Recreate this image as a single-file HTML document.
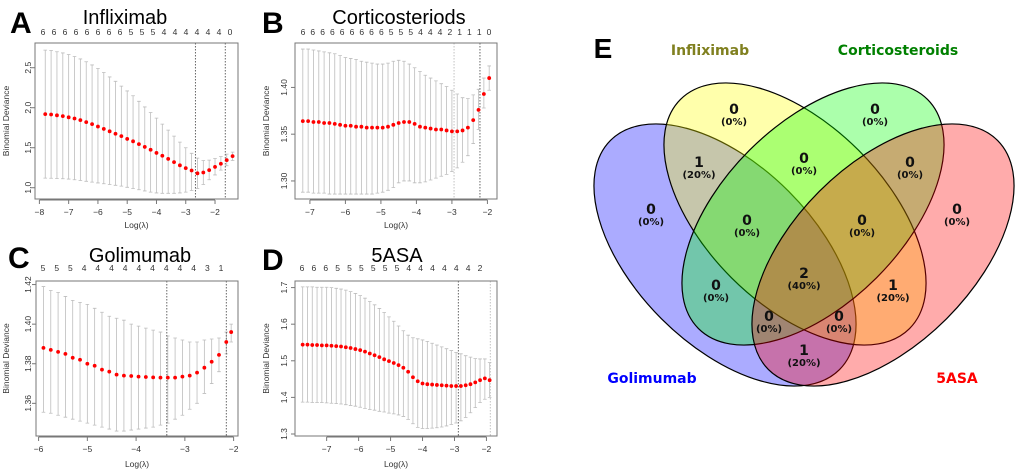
<!DOCTYPE html>
<html><head><meta charset="utf-8">
<style>
html,body{margin:0;padding:0;background:#fff;}
svg{display:block;}
text{font-family:"Liberation Sans",sans-serif;}
.vn{font-family:"DejaVu Sans","Liberation Sans",sans-serif;font-weight:bold;}
</style></head>
<body>
<svg id="root" width="1020" height="472" viewBox="0 0 1020 472" xmlns="http://www.w3.org/2000/svg">
<g id="panels"></g>
<g id="venn">
  <text x="603" y="58" font-size="28" font-weight="bold" text-anchor="middle">E</text>
  <g stroke="#000" stroke-width="1.2">
    <ellipse cx="725" cy="255" rx="162" ry="90" transform="rotate(45 725 255)" fill="#0000ff" fill-opacity="0.33"/>
    <ellipse cx="795" cy="214" rx="162" ry="90" transform="rotate(45 795 214)" fill="#ffff00" fill-opacity="0.33"/>
    <ellipse cx="813" cy="214" rx="162" ry="90" transform="rotate(-45 813 214)" fill="#00ff00" fill-opacity="0.33"/>
    <ellipse cx="883" cy="255" rx="162" ry="90" transform="rotate(-45 883 255)" fill="#ff0000" fill-opacity="0.33"/>
  </g>
  <g id="vennLabels"></g>
  <text class="vn" x="710" y="55" font-size="14" fill="#808020" text-anchor="middle">Infliximab</text>
  <text class="vn" x="898" y="55" font-size="14" fill="#008000" text-anchor="middle">Corticosteroids</text>
  <text class="vn" x="652" y="383" font-size="14" fill="#0000ff" text-anchor="middle">Golimumab</text>
  <text class="vn" x="957" y="383" font-size="14" fill="#ff0000" text-anchor="middle">5ASA</text>
</g>
</svg>
<script>
// ---------- Panel A data (Infliximab) ----------
const aLam = [-7.8,-7.6,-7.4,-7.2,-7.0,-6.8,-6.6,-6.4,-6.2,-6.0,-5.8,-5.6,-5.4,-5.2,-5.0,-4.8,-4.6,-4.4,-4.2,-4.0,-3.8,-3.6,-3.4,-3.2,-3.0,-2.8,-2.6,-2.4,-2.2,-2.0,-1.8,-1.6,-1.4];
const aMean = [1.92,1.915,1.905,1.895,1.88,1.865,1.845,1.82,1.795,1.765,1.735,1.705,1.675,1.645,1.61,1.58,1.545,1.51,1.475,1.435,1.40,1.36,1.32,1.28,1.245,1.215,1.18,1.19,1.22,1.26,1.30,1.345,1.395];
const aUpper = [2.72,2.715,2.70,2.685,2.665,2.64,2.61,2.575,2.535,2.49,2.44,2.385,2.33,2.27,2.21,2.15,2.08,2.01,1.94,1.87,1.795,1.72,1.645,1.57,1.50,1.43,1.37,1.34,1.345,1.365,1.39,1.42,1.445];
const aLower = [1.12,1.118,1.115,1.112,1.108,1.10,1.09,1.08,1.07,1.06,1.05,1.04,1.03,1.02,1.005,0.99,0.975,0.96,0.945,0.935,0.93,0.93,0.93,0.935,0.945,0.965,0.99,1.04,1.10,1.16,1.22,1.275,1.34];
const aTop = ["6","6","6","6","6","6","6","6","5","5","5","4","4","4","4","4","4","0"];
const aXTicks = [-8,-7,-6,-5,-4,-3,-2];
const aYTicks = ["1.0","1.5","2.0","2.5"];
const aVlines = [-2.67,-1.65];

// ---------- Panel B data (Corticosteriods) ----------
const bLam = [-7.2,-7.05,-6.9,-6.75,-6.6,-6.45,-6.3,-6.15,-6.0,-5.85,-5.7,-5.55,-5.4,-5.25,-5.1,-4.95,-4.8,-4.65,-4.5,-4.35,-4.2,-4.05,-3.9,-3.75,-3.6,-3.45,-3.3,-3.15,-3.0,-2.85,-2.7,-2.55,-2.4,-2.25,-2.1,-1.95];
const bMean = [1.364,1.364,1.363,1.363,1.362,1.362,1.361,1.360,1.359,1.359,1.358,1.358,1.357,1.357,1.357,1.357,1.358,1.360,1.362,1.363,1.363,1.361,1.358,1.357,1.356,1.355,1.355,1.354,1.353,1.353,1.354,1.357,1.365,1.376,1.393,1.410];
const bUpper = [1.441,1.441,1.440,1.439,1.438,1.437,1.436,1.434,1.432,1.431,1.430,1.428,1.427,1.426,1.425,1.425,1.426,1.428,1.429,1.428,1.425,1.421,1.417,1.413,1.410,1.407,1.404,1.401,1.397,1.393,1.389,1.388,1.392,1.398,1.410,1.423];
const bLower = [1.288,1.288,1.287,1.287,1.287,1.286,1.286,1.286,1.286,1.286,1.286,1.286,1.286,1.286,1.287,1.288,1.290,1.293,1.298,1.300,1.300,1.298,1.298,1.299,1.301,1.303,1.305,1.307,1.310,1.314,1.320,1.327,1.340,1.355,1.378,1.397];
const bTop = ["6","6","6","6","6","6","6","6","6","5","5","5","4","4","4","2","1","1","1","0"];
const bXTicks = [-7,-6,-5,-4,-3,-2];
const bYTicks = ["1.30","1.35","1.40"];
const bVlines = [-2.94,-2.21];

// ---------- Panel C data (Golimumab) ----------
const cLam = [-5.9,-5.75,-5.6,-5.45,-5.3,-5.15,-5.0,-4.85,-4.7,-4.55,-4.4,-4.25,-4.1,-3.95,-3.8,-3.65,-3.5,-3.35,-3.2,-3.05,-2.9,-2.75,-2.6,-2.45,-2.3,-2.15,-2.05];
const cMean = [1.388,1.387,1.386,1.385,1.383,1.382,1.380,1.379,1.377,1.376,1.3745,1.374,1.3738,1.3735,1.3733,1.3731,1.373,1.373,1.373,1.3735,1.374,1.3755,1.378,1.381,1.3845,1.391,1.396];
const cUpper = [1.419,1.417,1.416,1.414,1.412,1.411,1.410,1.408,1.406,1.404,1.403,1.402,1.400,1.399,1.398,1.397,1.396,1.394,1.393,1.392,1.391,1.391,1.392,1.3925,1.393,1.396,1.400];
const cLower = [1.3555,1.355,1.354,1.353,1.352,1.351,1.350,1.349,1.348,1.347,1.346,1.346,1.3465,1.347,1.3475,1.348,1.349,1.350,1.352,1.354,1.357,1.360,1.365,1.370,1.376,1.385,1.391];
const cTop = ["5","5","5","4","4","4","4","4","4","4","4","4","3","1"];
const cXTicks = [-6,-5,-4,-3,-2];
const cYTicks = ["1.36","1.38","1.40","1.42"];
const cVlines = [-3.37,-2.15];

// ---------- Panel D data (5ASA) ----------
const dLam = [-7.75,-7.6,-7.45,-7.3,-7.15,-7.0,-6.85,-6.7,-6.55,-6.4,-6.25,-6.1,-5.95,-5.8,-5.65,-5.5,-5.35,-5.2,-5.05,-4.9,-4.75,-4.6,-4.45,-4.3,-4.15,-4.0,-3.85,-3.7,-3.55,-3.4,-3.25,-3.1,-2.95,-2.8,-2.65,-2.5,-2.35,-2.2,-2.05,-1.9];
const dMean = [1.544,1.544,1.543,1.543,1.542,1.542,1.541,1.540,1.539,1.537,1.535,1.532,1.529,1.525,1.520,1.515,1.510,1.504,1.499,1.494,1.488,1.481,1.470,1.455,1.444,1.438,1.436,1.435,1.434,1.433,1.432,1.431,1.431,1.431,1.433,1.436,1.441,1.447,1.452,1.447];
const dUpper = [1.702,1.702,1.702,1.701,1.701,1.701,1.700,1.698,1.696,1.693,1.689,1.684,1.678,1.671,1.662,1.653,1.643,1.632,1.620,1.608,1.595,1.582,1.570,1.563,1.560,1.557,1.553,1.548,1.543,1.538,1.533,1.528,1.523,1.519,1.514,1.510,1.506,1.505,1.505,1.495];
const dLower = [1.387,1.387,1.386,1.386,1.386,1.385,1.384,1.383,1.382,1.380,1.378,1.376,1.373,1.370,1.367,1.365,1.362,1.360,1.357,1.355,1.352,1.348,1.340,1.328,1.318,1.315,1.315,1.316,1.317,1.319,1.322,1.326,1.330,1.336,1.345,1.358,1.372,1.386,1.395,1.400];
const dTop = ["6","6","6","5","5","5","5","5","5","4","4","4","4","4","4","2"];
const dXTicks = [-7,-6,-5,-4,-3,-2];
const dYTicks = ["1.3","1.4","1.5","1.6","1.7"];
const dVlines = [-2.88,-1.88];

// ---------- Venn counts ----------
const vennCounts = ["0","0","1","0","0","0","0","0","0","2","0","1","0","0","1"];
const vennPercents = ["(0%)","(0%)","(20%)","(0%)","(0%)","(0%)","(0%)","(0%)","(0%)","(40%)","(0%)","(20%)","(0%)","(0%)","(20%)"];

const NS = "http://www.w3.org/2000/svg";
function mk(tag, attrs, parent){
  const e = document.createElementNS(NS, tag);
  for (const k in attrs) e.setAttribute(k, attrs[k]);
  parent.appendChild(e);
  return e;
}

const panels = [
  {id:"a", letter:"A", title:"Infliximab", lam:aLam, mean:aMean, up:aUpper, lo:aLower, top:aTop, xt:aXTicks, yt:aYTicks, vl:aVlines,
   box:[35,43,238,199], xd:[-8.15,-1.215], yd:[0.859,2.809], letterX:10, letterY:33, titleX:125, titleY:24, topY:35, topX:[43,230], logY:228, ylabX:9, ytX:31},
  {id:"b", letter:"B", title:"Corticosteriods", lam:bLam, mean:bMean, up:bUpper, lo:bLower, top:bTop, xt:bXTicks, yt:bYTicks, vl:bVlines,
   box:[295,43,497,199], xd:[-7.42,-1.73], yd:[1.2807,1.4475], letterX:262, letterY:33, titleX:399, titleY:24, topY:35, topX:[303,489], logY:228, ylabX:269, ytX:287},
  {id:"c", letter:"C", title:"Golimumab", lam:cLam, mean:cMean, up:cUpper, lo:cLower, top:cTop, xt:cXTicks, yt:cYTicks, vl:cVlines,
   box:[36,281,238,436], xd:[-6.053,-1.91], yd:[1.3435,1.4218], letterX:8, letterY:268, titleX:140, titleY:262, topY:271, topX:[43,221], logY:467, ylabX:9, ytX:31},
  {id:"d", letter:"D", title:"5ASA", lam:dLam, mean:dMean, up:dUpper, lo:dLower, top:dTop, xt:dXTicks, yt:dYTicks, vl:dVlines,
   box:[295,281,497,436], xd:[-7.99,-1.67], yd:[1.2945,1.718], letterX:262, letterY:270, titleX:397, titleY:262, topY:271, topX:[302,480], logY:467, ylabX:269, ytX:287}
];

const root = document.getElementById("panels");
panels.forEach(p => {
  const g = mk("g", {}, root);
  
  
  const [x0,y0,x1,y1] = p.box;
  const sx = v => x0 + (v - p.xd[0]) / (p.xd[1] - p.xd[0]) * (x1 - x0);
  const sy = v => y1 - (v - p.yd[0]) / (p.yd[1] - p.yd[0]) * (y1 - y0);

  const L = mk("text", {x:p.letterX, y:p.letterY, "font-size":30, "font-weight":"bold"}, g);
  L.textContent = p.letter;
  
  
  const T = mk("text", {x:p.titleX, y:p.titleY, "font-size":20, "text-anchor":"middle"}, g);
  T.textContent = p.title;
  
  

  p.top.forEach((s,i) => {
    const tx = p.topX[0] + i * (p.topX[1] - p.topX[0]) / (p.top.length - 1);
    const t = mk("text", {x:tx, y:p.topY, "font-size":8.5, "text-anchor":"middle", fill:"#333"}, g);
    t.textContent = s;
    
    
  });

  const eb = mk("g", {stroke:"#bdbdbd", "stroke-width":0.8}, g);
  
  
  p.lam.forEach((l,i) => {
    const x = sx(l), yu = sy(p.up[i]), yl = sy(p.lo[i]);
    const ln = mk("path", {d:`M${x},${yu}V${yl}M${x-1.8},${yu}H${x+1.8}M${x-1.8},${yl}H${x+1.8}`, fill:"none"}, eb);
    
    
  });

  p.vl.forEach((v,i) => {
    const vl = mk("line", {x1:sx(v), x2:sx(v), y1:y0, y2:y1, stroke: i===0 && p.id==="b" ? "#bbb" : (i===1 && p.id==="d" ? "#bbb" : "#555"), "stroke-width":0.9, "stroke-dasharray":"1.5,1.5"}, g);
    
    
  });

  const pts = mk("g", {fill:"#ff0000"}, g);
  
  
  p.lam.forEach((l,i) => {
    const c = mk("circle", {cx:sx(l), cy:sy(p.mean[i]), r:1.9}, pts);
    
    
  });

  const bx = mk("rect", {x:x0, y:y0, width:x1-x0, height:y1-y0, fill:"none", stroke:"#777", "stroke-width":1}, g);
  
  

  const xa = mk("g", {}, g);
  
  
  mk("line", {x1:sx(p.xt[0]), x2:sx(p.xt[p.xt.length-1]), y1:y1+1, y2:y1+1, stroke:"#777"}, xa);
  p.xt.forEach(v => {
    mk("line", {x1:sx(v), x2:sx(v), y1:y1+1, y2:y1+5, stroke:"#777"}, xa);
    const t = mk("text", {x:sx(v), y:y1+16, "font-size":8.5, "text-anchor":"middle", fill:"#333"}, xa);
    t.textContent = "\u2212" + Math.abs(v);
    
    
  });
  const xl = mk("text", {x:(x0+x1)/2, y:p.logY, "font-size":8.5, "text-anchor":"middle", fill:"#333"}, g);
  xl.textContent = "Log(\u03bb)";
  
  

  const ya = mk("g", {}, g);
  
  
  p.yt.forEach(s => {
    const v = parseFloat(s), y = sy(v);
    mk("line", {x1:x0-4, x2:x0, y1:y, y2:y, stroke:"#777"}, ya);
    const t = mk("text", {x:p.ytX, y:y, "font-size":8.5, "text-anchor":"middle", fill:"#333", transform:`rotate(-90 ${p.ytX} ${y})`}, ya);
    t.textContent = s;
    
    
  });
  const ym = (y0+y1)/2;
  const yl = mk("text", {x:p.ylabX, y:ym, "font-size":8.5, "text-anchor":"middle", fill:"#333", transform:`rotate(-90 ${p.ylabX} ${ym})`}, g);
  yl.textContent = "Binomial Deviance";
  
  
});

const vennPos = [[734,109],[875,109],[699,162],[804,158],[910,162],[651,209],[957,209],[747,220],[862,220],[804,273],[716,285],[893,285],[769,316],[839,316],[804,350]];
const vg = document.getElementById("vennLabels");
vennCounts.forEach((c,i) => {
  const [x,y] = vennPos[i];
  const t1 = mk("text", {x:x, y:y+5, "font-size":14, "text-anchor":"middle", "class":"vn", fill:"#111"}, vg);
  t1.textContent = c;
  
  
  const t2 = mk("text", {x:x, y:y+16, "font-size":10, "text-anchor":"middle", "class":"vn", fill:"#111"}, vg);
  t2.textContent = vennPercents[i];
  
  
});
</script>
</body></html>
